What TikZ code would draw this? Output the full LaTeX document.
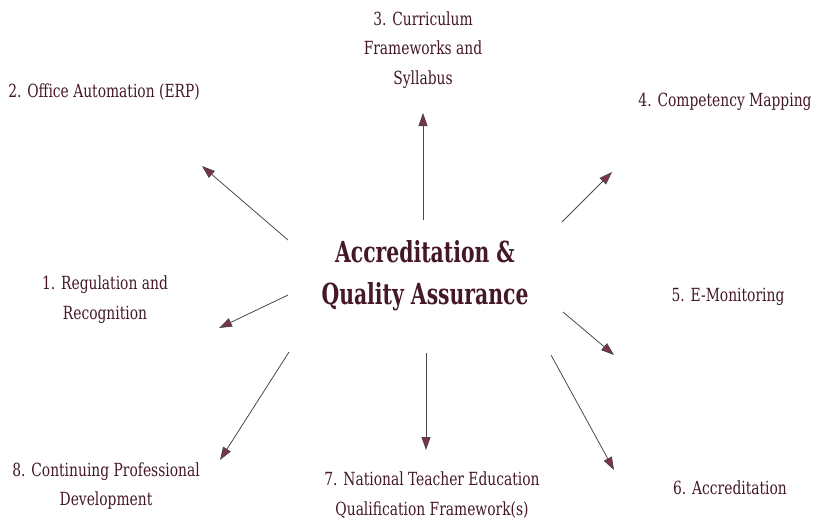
\documentclass[tikz,border=0pt]{standalone}
\usepackage{fontspec}
\setmainfont{DejaVu Serif Condensed}[FakeStretch=0.85]
\newfontfamily\hubfont{DejaVu Serif Condensed}[FakeStretch=0.78]
\usepackage{tikz}
\usetikzlibrary{arrows.meta,positioning}
\definecolor{maroon}{HTML}{441824}
\definecolor{tipred}{HTML}{7A3444}
\definecolor{wire}{HTML}{4D4648}

\begin{document}
\begin{tikzpicture}[x=0.02cm,y=-0.02cm,
  lab/.style={align=center, font=\fontsize{10.3}{17}\selectfont, text=maroon, inner sep=0pt},
  hub/.style={align=center, font=\hubfont\fontsize{16.5}{24}\selectfont\bfseries, text=maroon, inner sep=0pt},
  spoke/.style={-{Triangle[length=2.6mm,width=1.8mm,fill=tipred]}, draw=wire, line width=0.45pt}
]
  \useasboundingbox (0,0) rectangle (821,525);

  \node[hub] (qa) at (425,276) {Accreditation \&\\Quality Assurance};

  \node[lab] (regul) at (105,300) {1. Regulation and\\Recognition};
  \node[lab] (erp)   at (104,92)  {2. Office Automation (ERP)};
  \node[lab] (curr)  at (423,50)  {3. Curriculum\\Frameworks and\\Syllabus};
  \node[lab] (comp)  at (725,102) {4. Competency Mapping};
  \node[lab] (emon)  at (728,297) {5. E-Monitoring};
  \node[lab] (accr)  at (730,488) {6. Accreditation};
  \node[lab] (ntqf)  at (432,495) {7. National Teacher Education\\Qualification Framework(s)};
  \node[lab] (cpd)   at (106,486) {8. Continuing Professional\\Development};

  % spoke ends
  \coordinate (s1) at (288,295); \coordinate (t1) at (219,328);
  \coordinate (s2) at (288,240); \coordinate (t2) at (202,166);
  \coordinate (s3) at (423,220); \coordinate (t3) at (423,113);
  \coordinate (s4) at (562,222); \coordinate (t4) at (612,172);
  \coordinate (s5) at (563,312); \coordinate (t5) at (614,355);
  \coordinate (s6) at (551,355); \coordinate (t6) at (614,470);
  \coordinate (s7) at (426,353); \coordinate (t7) at (426,450);
  \coordinate (s8) at (289,352); \coordinate (t8) at (220,460);

  \foreach \i in {1,...,8}
    \draw[spoke] (s\i) -- (t\i);
\end{tikzpicture}
\end{document}
